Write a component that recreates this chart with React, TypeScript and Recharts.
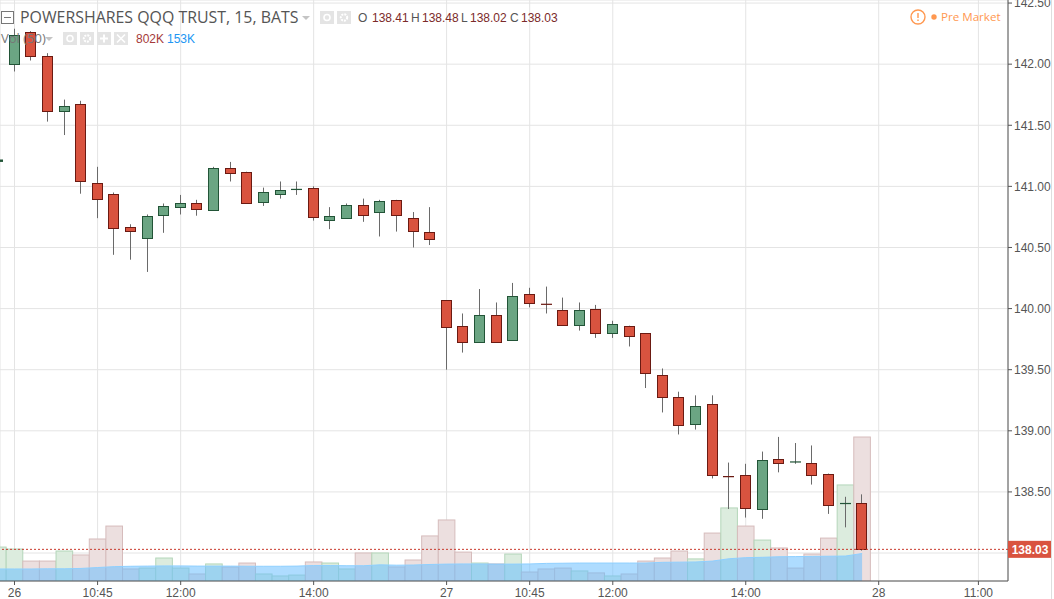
import React from "react";
import { ComposedChart, Bar, Area, XAxis, YAxis, CartesianGrid, ReferenceLine } from "recharts";

// first bar is the clipped one at the left edge (index -1)
const opens = [141.2, 142.0, 142.26, 142.07, 141.62, 141.67, 141.03, 140.94, 140.67, 140.58, 140.77, 140.83, 140.86, 140.81, 141.15, 141.12, 140.87, 140.94, 140.97, 140.99, 140.73, 140.74, 140.85, 140.79, 140.89, 140.74, 140.63, 140.07, 139.86, 139.73, 139.95, 139.74, 140.12, 140.04, 139.99, 139.87, 140.0, 139.8, 139.86, 139.8, 139.46, 139.28, 139.05, 139.22, 138.63, 138.64, 138.36, 138.77, 138.74, 138.74, 138.65, 138.4, 138.41];
const highs = [141.22, 142.29, 142.27, 142.09, 141.71, 141.7, 141.16, 140.95, 140.69, 140.77, 140.86, 140.93, 140.89, 141.16, 141.2, 141.12, 140.99, 141.04, 141.04, 141.0, 140.83, 140.86, 140.9, 140.89, 140.89, 140.79, 140.83, 140.07, 139.96, 140.16, 140.05, 140.21, 140.17, 140.18, 140.09, 140.05, 140.03, 139.9, 139.86, 139.8, 139.51, 139.32, 139.29, 139.29, 138.74, 138.73, 138.83, 138.95, 138.9, 138.88, 138.65, 138.46, 138.48];
const lows = [141.2, 141.94, 142.03, 141.53, 141.42, 140.94, 140.74, 140.44, 140.4, 140.3, 140.62, 140.77, 140.76, 140.81, 141.04, 140.87, 140.84, 140.9, 140.93, 140.72, 140.65, 140.74, 140.71, 140.59, 140.63, 140.5, 140.52, 139.5, 139.64, 139.73, 139.73, 139.74, 140.01, 139.96, 139.87, 139.82, 139.76, 139.76, 139.69, 139.35, 139.15, 138.97, 139.01, 138.61, 138.36, 138.29, 138.28, 138.66, 138.73, 138.56, 138.32, 138.21, 138.02];
const closes = [141.22, 142.24, 142.06, 141.62, 141.66, 141.04, 140.9, 140.66, 140.64, 140.76, 140.84, 140.86, 140.81, 141.15, 141.11, 140.87, 140.95, 140.97, 140.98, 140.75, 140.76, 140.85, 140.77, 140.88, 140.77, 140.63, 140.57, 139.85, 139.73, 139.95, 139.73, 140.1, 140.05, 140.03, 139.87, 139.99, 139.8, 139.87, 139.78, 139.47, 139.28, 139.05, 139.2, 138.64, 138.62, 138.37, 138.76, 138.74, 138.75, 138.64, 138.4, 138.41, 138.03];
const volumes = [189, 178, 111, 111, 167, 145, 234, 306, 67, 72, 128, 72, 39, 95, 78, 100, 39, 28, 33, 106, 100, 67, 156, 156, 78, 117, 251, 340, 161, 100, 95, 150, 50, 67, 72, 56, 45, 28, 39, 111, 128, 167, 123, 267, 407, 306, 228, 184, 72, 150, 239, 535, 802];
const volumeUp = [1, 1, 0, 0, 1, 0, 0, 0, 0, 1, 1, 1, 0, 1, 0, 0, 1, 1, 1, 0, 1, 1, 0, 1, 0, 0, 0, 0, 0, 1, 0, 1, 0, 0, 0, 1, 0, 1, 0, 0, 0, 0, 1, 0, 1, 0, 1, 0, 0, 0, 0, 1, 0];
const volumeMa = [67, 67, 67, 68, 68, 70, 75, 80, 82, 83, 84, 84, 83, 83, 83, 82, 82, 82, 83, 86, 86, 85, 85, 90, 88, 89, 92, 94, 95, 95, 94, 94, 95, 98, 99, 100, 100, 100, 100, 100, 104, 105, 106, 111, 124, 130, 132, 135, 136, 137, 138, 139, 153];

const tickIndexes = [0, 5, 10, 18, 26, 31, 36, 44, 52, 58];
const tickLabels = ["26", "10:45", "12:00", "14:00", "27", "10:45", "12:00", "14:00", "28", "11:00"];
const priceTicks = [138, 138.5, 139, 139.5, 140, 140.5, 141, 141.5, 142, 142.5];
const lastPrice = 138.03;
const coveredPriceTick = 138; // label sits under the last-price tag
const indexDomain = [-0.872, 59.78];

const chartData = opens.map((open, i) => ({
  index: i - 1,
  open,
  high: highs[i],
  low: lows[i],
  close: closes[i],
  volume: volumes[i],
  volumeUp: volumeUp[i] === 1,
  volumeMa: volumeMa[i],
}));

const sans = '"Liberation Sans", Arial, sans-serif';

function Candle(props: any) {
  const { x, y, width, height, payload } = props;
  const pxPerUnit = height / (payload.high - payload.low || 1);
  const up = payload.close >= payload.open;
  const top = y + (payload.high - Math.max(payload.open, payload.close)) * pxPerUnit;
  const bottom = y + (payload.high - Math.min(payload.open, payload.close)) * pxPerUnit;
  const mid = Math.round(x + width / 2) - 0.5;
  const fill = up ? "#6ba583" : "#d9533f";
  const edge = up ? "#225437" : "#6b1a12";
  return (
    <g>
      <line x1={mid} x2={mid} y1={y} y2={y + height} stroke="#6a6a6a" strokeWidth={1} />
      {bottom - top < 3 ? (
        <line x1={mid - 5.5} x2={mid + 5.5} y1={(top + bottom) / 2} y2={(top + bottom) / 2} stroke={edge} strokeWidth={Math.max(1, bottom - top)} />
      ) : (
        <rect x={mid - 5} y={Math.round(top) + 0.5} width={10} height={Math.round(bottom - top)} fill={fill} stroke={edge} strokeWidth={1} />
      )}
    </g>
  );
}

function VolumeBar(props: any) {
  const { x, y, width, height, payload } = props;
  const up = payload.volumeUp;
  return (
    <rect
      x={x}
      y={y}
      width={width}
      height={height}
      fill={up ? "#dcecde" : "#ecdfdf"}
      stroke={up ? "#b4d6ba" : "#d6bcbc"}
      strokeWidth={1}
    />
  );
}

function PriceTag(props: any) {
  const { viewBox } = props;
  const right = viewBox.x + viewBox.width;
  return (
    <g>
      <rect x={right} y={viewBox.y - 8.5} width={43} height={17} fill="#d9533f" />
      <text x={right + 22} y={viewBox.y + 4.5} textAnchor="middle" fontSize={12} fontWeight="bold" fontFamily={sans} fill="#fff">
        {lastPrice.toFixed(2)}
      </text>
    </g>
  );
}

function IconBox({ left, top, children }: { left: number; top: number; children?: React.ReactNode }) {
  return (
    <svg width={14} height={13} style={{ position: "absolute", left, top }}>
      <rect width={14} height={13} fill="#e4e4e4" />
      {children}
    </svg>
  );
}

const eye = <circle cx={7} cy={6.5} r={3} fill="none" stroke="#fff" strokeWidth={1.6} />;
const gear = <circle cx={7} cy={6.5} r={3.2} fill="none" stroke="#fff" strokeWidth={2} strokeDasharray="2 1" />;
const plus = <path d="M7 2.5V10.5M3 6.5H11" stroke="#fff" strokeWidth={2} />;
const cross = <path d="M3 2.5L11 10.5M11 2.5L3 10.5" stroke="#fff" strokeWidth={1.6} />;

function Label({ left, top, color, size = 12, family = sans, children }: any) {
  return (
    <div style={{ position: "absolute", left, top, color, fontSize: size, fontFamily: family, lineHeight: 1, whiteSpace: "nowrap" }}>
      {children}
    </div>
  );
}

function Caret({ left, top }: { left: number; top: number }) {
  return (
    <svg width={9} height={5} style={{ position: "absolute", left, top }}>
      <path d="M0 0H8L4 4Z" fill="#c4c4c4" />
    </svg>
  );
}

export default function App() {
  return (
    <div style={{ position: "absolute", left: 0, top: 0, width: 1054, height: 599, overflow: "hidden", background: "#fff" }}>
      <ComposedChart width={1054} height={599} data={chartData} margin={{ top: 0, right: 0, bottom: 0, left: 0 }}>
        <CartesianGrid stroke="#e4e4e4" yAxisId="price" />
        <XAxis
          dataKey="index"
          type="number"
          scale="linear"
          domain={indexDomain}
          allowDataOverflow
          ticks={tickIndexes}
          interval={0}
          height={18}
          tickSize={4}
          tickMargin={3}
          tick={{ fontSize: 12, fontFamily: sans, fill: "#555" }}
          stroke="#555"
          tickFormatter={(v: number) => tickLabels[tickIndexes.indexOf(v)]}
        />
        {/* second x axis so the volume bars don't get grouped beside the candles */}
        <XAxis xAxisId="volume" dataKey="index" type="number" scale="linear" domain={indexDomain} allowDataOverflow hide height={18} />
        <YAxis
          yAxisId="price"
          orientation="right"
          width={46}
          domain={[137.771, 142.525]}
          allowDataOverflow
          ticks={priceTicks}
          interval={0}
          tickSize={4}
          tick={{ fontSize: 12, fontFamily: sans, fill: "#555" }}
          stroke="#555"
          tickFormatter={(v: number) => (v === coveredPriceTick ? "" : v.toFixed(2))}
        />
        <YAxis yAxisId="volume" hide domain={[0, 3236]} allowDataOverflow />
        <Bar
          xAxisId="volume"
          yAxisId="volume"
          dataKey="volume"
          barSize={16.6}
          shape={VolumeBar}
          zIndex={300}
          isAnimationActive={false}
        />
        <Area
          xAxisId="volume"
          yAxisId="volume"
          dataKey="volumeMa"
          type="linear"
          stroke="#8fd0ff"
          strokeWidth={1}
          fill="#66bdff"
          fillOpacity={0.53}
          dot={false}
          activeDot={false}
          zIndex={310}
          isAnimationActive={false}
        />
        <Bar
          yAxisId="price"
          dataKey={(d: any) => [d.low, d.high]}
          barSize={11}
          shape={Candle}
          zIndex={320}
          isAnimationActive={false}
        />
        <ReferenceLine
          yAxisId="price"
          y={lastPrice}
          stroke="#c9392c"
          strokeDasharray="2 2"
          label={<PriceTag />}
          zIndex={600}
        />
      </ComposedChart>

      <svg width={13} height={13} style={{ position: "absolute", left: 1, top: 11 }}>
        <rect x={0.5} y={0.5} width={12} height={12} fill="#fff" stroke="#777" />
        <path d="M3 6.5H10" stroke="#777" />
      </svg>
      <Label left={20} top={10} color="#555" size={15.9} family='"Open Sans", sans-serif'>POWERSHARES QQQ TRUST, 15, BATS</Label>
      <Caret left={302} top={16} />
      <IconBox left={320} top={11}>{eye}</IconBox>
      <IconBox left={337} top={11}>{gear}</IconBox>
      <Label left={358} top={12} color="#555">O</Label>
      <Label left={372} top={12} color="#7b2a2a">138.41</Label>
      <Label left={411} top={12} color="#555">H</Label>
      <Label left={422} top={12} color="#7b2a2a">138.48</Label>
      <Label left={461} top={12} color="#555">L</Label>
      <Label left={470} top={12} color="#7b2a2a">138.02</Label>
      <Label left={510} top={12} color="#555">C</Label>
      <Label left={521} top={12} color="#7b2a2a">138.03</Label>

      <Label left={1} top={32} color="#777" size={13} family='"Open Sans", sans-serif'>Vol (50)</Label>
      <Caret left={45} top={37} />
      <IconBox left={63} top={32}>{eye}</IconBox>
      <IconBox left={80} top={32}>{gear}</IconBox>
      <IconBox left={97} top={32}>{plus}</IconBox>
      <IconBox left={114} top={32}>{cross}</IconBox>
      <Label left={136} top={33} color="#a53a3a">802K</Label>
      <Label left={167} top={33} color="#2196f3">153K</Label>

      <svg width={32} height={18} style={{ position: "absolute", left: 909, top: 8 }}>
        <circle cx={9} cy={9} r={7} fill="#fff" stroke="#ff9850" strokeWidth={1.4} />
        <path d="M9 5V10M9 11.5V13" stroke="#ff9850" strokeWidth={1.4} />
        <circle cx={25} cy={9} r={2.7} fill="#ff9850" />
      </svg>
      <Label left={941} top={11} color="#ff9850" size={11.6} family='"Open Sans", sans-serif'>Pre Market</Label>

      <div style={{ position: "absolute", left: 1051, top: 0, width: 1, height: 599, background: "#dedede" }} />
    </div>
  );
}
